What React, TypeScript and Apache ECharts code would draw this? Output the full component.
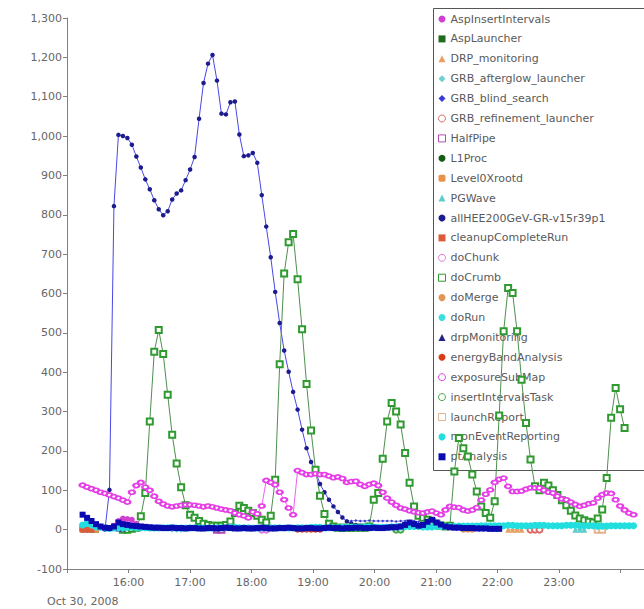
import React, { useEffect, useRef } from "react";
import * as echarts from "echarts";

// Sampling grid of the monitoring data (Oct 30, 2008, one sample every ~4.4 minutes)
const T0 = new Date(2008, 9, 30, 15, 15, 13).getTime();
const STEP = 262200;
const X_MIN = new Date(2008, 9, 30, 15, 0, 0).getTime();
const X_MAX = new Date(2008, 9, 31, 0, 28, 47).getTime();

const yTicks = { min: -100, max: 1300, interval: 100 };
const dateLabel = "Oct 30, 2008";

// ---- series values (start = first sample index) ----
const aspInsertStart = 7;
const aspInsertValues = [10, 22, 28, 27, 25, 15, 5];

const aspLauncherStart = 0;
const aspLauncherValues = [3, 2, 1, 0];

const drpStart = 95;
const drpValues = [0, 0, 0, 0];

const grbAfterglowStart = 20;
const grbAfterglowValues = [0, 0, 0];

const grbBlindStart = 59;
const grbBlindValues = [22, 22, 23, 22, 22, 23, 22, 22, 22, 22, 22, 21, 22, 22, 22, 22, 20];

const grbRefStart = 100;
const grbRefValues = [0, 0, 0];

const halfPipeStart = 30;
const halfPipeValues = [0, 0];

const l1ProcStart = 0;
const l1ProcValues = [0, 0, 0];

const level0Start = 0;
const level0Values = [2, 2, 1, 0];

const pgWaveStart = 110;
const pgWaveValues = [0, 0, 0];

const allHEEStart = 5;
const allHEEValues = [
  0, 101, 822, 1003, 1000, 995, 978, 948, 920, 890, 865, 837, 814, 799, 809, 839, 854, 862, 888, 915,
  947, 1044, 1135, 1184, 1206, 1141, 1057, 1055, 1086, 1088, 1004, 949, 951, 957, 932, 850, 770, 692,
  604, 525, 455, 401, 350, 305, 254, 207, 172, 148, 116, 95, 76, 59, 45, 31, 21, 15, 12, 10, 8, 5, 3,
];

const cleanupStart = 0;
const cleanupValues = [0, 0, 0];

const doChunkStart = 40;
const doChunkValues = [0, 0];

const doCrumbStart = 9;
const doCrumbValues = [
  0, 0, 2, 5, 34, 93, 275, 452, 507, 446, 343, 241, 168, 108, 62, 38, 30, 22, 15, 12,
  10, 10, 10, 12, 21, 42, 61, 55, 48, 42, 35, 25, 18, 35, 127, 420, 651, 730, 751, 636,
  509, 370, 252, 152, 86, 40, 15, 8, 5, 5, 5, 5, 5, 5, 5, 8, 76, 93, 180, 275,
  322, 300, 267, 195, 119, 59, 35, 30, 25, 20, 15, 10, 8, 10, 148, 233, 207, 186, 140, 97,
  59, 42, 30, 72, 290, 504, 614, 601, 504, 381, 271, 178, 110, 100, 119, 112, 100, 88, 75, 62,
  48, 36, 28, 24, 20, 18, 28, 51, 131, 284, 360, 306, 258,
];

const doMergeStart = 85;
const doMergeValues = [0, 0, 0];

const doRunStart = 0;
const doRunValues = [12, 15, 10, 5];

const drpMonStart = 6;
const drpMonValues = [5, 4, 3, 3];

const energyStart = 48;
const energyValues = [0, 0, 0, 0, 0, 0];

const exposureStart = 0;
const exposureValues = [
  113, 108, 104, 100, 95, 92, 88, 84, 80, 75, 70, 95, 112, 120, 108, 100, 85, 72, 65, 60,
  58, 60, 62, 63, 63, 62, 60, 58, 60, 58, 55, 52, 50, 48, 42, 38, 35, 30, 45, 40,
  60, 125, 120, 114, 95, 76, 55, 38, 150, 145, 140, 140, 142, 140, 140, 136, 132, 134, 130, 120,
  122, 123, 115, 110, 115, 118, 112, 95, 80, 70, 62, 55, 52, 48, 45, 43, 42, 45, 47, 42,
  38, 50, 59, 57, 56, 50, 47, 50, 56, 75, 90, 101, 120, 128, 131, 110, 97, 97, 98, 103,
  106, 106, 106, 100, 95, 93, 85, 78, 76, 70, 64, 59, 62, 66, 68, 80, 89, 93, 92, 76,
  60, 50, 42, 38,
];

const insertIntStart = 70;
const insertIntValues = [0, 0];

const launchStart = 115;
const launchValues = [0, 0];

const monEventStart = 0;
const monEventValues = [
  12, 16, 14, 10, 6, 4, 3, 4, 5, 5, 6, 6, 5, 5, 5, 4, 4, 4, 5, 5,
  5, 4, 4, 4, 5, 5, 5, 4, 4, 4, 5, 5, 5, 6, 6, 5, 5, 5, 4, 4,
  4, 5, 5, 5, 5, 4, 4, 4, 5, 5, 5, 6, 6, 6, 5, 5, 5, 5, 6, 6,
  6, 6, 7, 7, 7, 6, 6, 6, 6, 7, 7, 7, 8, 8, 8, 8, 7, 7, 7, 8,
  8, 8, 8, 8, 9, 9, 9, 9, 9, 10, 10, 10, 10, 10, 10, 11, 11, 10, 10, 10,
  10, 11, 11, 11, 10, 10, 10, 10, 11, 11, 11, 10, 10, 10, 10, 9, 9, 9, 10, 10,
  10, 10, 10, 10,
];

const ptStart = 0;
const ptValues = [
  38, 30, 22, 14, 8, 5, 4, 8, 18, 14, 12, 10, 9, 8, 7, 6, 5, 5, 4, 4,
  5, 4, 4, 3, 4, 4, 3, 3, 4, 4, 3, 4, 5, 4, 3, 3, 4, 3, 3, 4,
  5, 4, 3, 3, 4, 4, 5, 4, 3, 3, 4, 4, 3, 3, 4, 5, 4, 4, 3, 4,
  4, 5, 5, 4, 4, 5, 4, 4, 5, 6, 6, 8, 12, 18, 14, 10, 12, 20, 25, 18,
  13, 8, 6, 5, 5, 4, 4, 4, 3, 3, 3, 2, 2, 2,
];

type Def = {
  name: string; color: string; line?: string; symbol: string; empty?: boolean;
  size: number | number[]; start: number; values: number[];
};

const defs: Def[] = [
  { name: "AspInsertIntervals", color: "#d13fd1", symbol: "circle", size: 6, start: aspInsertStart, values: aspInsertValues },
  { name: "AspLauncher", color: "#1e6b1e", symbol: "rect", size: 6, start: aspLauncherStart, values: aspLauncherValues },
  { name: "DRP_monitoring", color: "#e8a064", symbol: "triangle", size: 6, start: drpStart, values: drpValues },
  { name: "GRB_afterglow_launcher", color: "#6fd0d0", symbol: "diamond", size: 6, start: grbAfterglowStart, values: grbAfterglowValues },
  { name: "GRB_blind_search", color: "#3a3ad6", line: "#8080e0", symbol: "diamond", size: 3, start: grbBlindStart, values: grbBlindValues },
  { name: "GRB_refinement_launcher", color: "#e06a6a", symbol: "circle", empty: true, size: 6, start: grbRefStart, values: grbRefValues },
  { name: "HalfPipe", color: "#b04cb0", symbol: "rect", empty: true, size: 6, start: halfPipeStart, values: halfPipeValues },
  { name: "L1Proc", color: "#135c13", symbol: "circle", size: 6, start: l1ProcStart, values: l1ProcValues },
  { name: "Level0Xrootd", color: "#e8924a", symbol: "roundRect", size: 6, start: level0Start, values: level0Values },
  { name: "PGWave", color: "#5fcccc", symbol: "triangle", size: 6, start: pgWaveStart, values: pgWaveValues },
  { name: "allHEE200GeV-GR-v15r39p1", color: "#1c1c8f", line: "#4848e6", symbol: "circle", size: 4.5, start: allHEEStart, values: allHEEValues },
  { name: "cleanupCompleteRun", color: "#dd5a3a", symbol: "rect", size: 6, start: cleanupStart, values: cleanupValues },
  { name: "doChunk", color: "#e07ae0", symbol: "circle", empty: true, size: 6, start: doChunkStart, values: doChunkValues },
  { name: "doCrumb", color: "#2f9a2f", line: "#4f8f4f", symbol: "rect", empty: true, size: 6, start: doCrumbStart, values: doCrumbValues },
  { name: "doMerge", color: "#e39552", symbol: "circle", size: 6, start: doMergeStart, values: doMergeValues },
  { name: "doRun", color: "#3adede", symbol: "circle", size: 6, start: doRunStart, values: doRunValues },
  { name: "drpMonitoring", color: "#22228a", symbol: "triangle", size: 6, start: drpMonStart, values: drpMonValues },
  { name: "energyBandAnalysis", color: "#dd3a16", symbol: "circle", size: 6, start: energyStart, values: energyValues },
  { name: "exposureSubMap", color: "#e63ee6", line: "#f060f0", symbol: "circle", empty: true, size: [6, 4], start: exposureStart, values: exposureValues },
  { name: "insertIntervalsTask", color: "#46aa46", symbol: "circle", empty: true, size: 6, start: insertIntStart, values: insertIntValues },
  { name: "launchReport", color: "#e4b48e", symbol: "rect", empty: true, size: 6, start: launchStart, values: launchValues },
  { name: "monEventReporting", color: "#22dede", symbol: "circle", size: 7, start: monEventStart, values: monEventValues },
  { name: "ptAnalysis", color: "#0a0ab0", symbol: "rect", size: 6, start: ptStart, values: ptValues },
];

export default function App() {
  const ref = useRef<HTMLDivElement>(null);
  useEffect(() => {
    if (!ref.current) return;
    const chart = echarts.init(ref.current, null, { renderer: "svg" });
    const font = "DejaVu Sans";
    const border = { stroke: "#555555", lineWidth: 1 };
    chart.setOption({
      animation: false,
      backgroundColor: "#ffffff",
      textStyle: { fontFamily: font },
      grid: { left: 67, right: 150, top: 18, bottom: 40 },
      legend: {
        orient: "vertical",
        left: 433,
        top: 8,
        z: 1,
        padding: [5, 5, 5, 5],
        backgroundColor: "transparent",
        borderWidth: 0,
        itemWidth: 7,
        itemHeight: 7,
        itemGap: 7.9,
        itemTextGap: 10,
        selectedMode: false,
        textStyle: { fontFamily: font, fontSize: 11, color: "#5a5a5a", lineHeight: 12 },
        data: defs.map((d) => ({
          name: d.name,
          icon: d.symbol,
          itemStyle: d.empty
            ? { color: "#ffffff", borderColor: d.color, borderWidth: 1 }
            : { color: d.color, borderWidth: 0 },
        })),
      },
      xAxis: {
        type: "time",
        min: X_MIN,
        max: X_MAX,
        splitNumber: 9,
        minInterval: 3600000,
        maxInterval: 3600000,
        splitLine: { show: false },
        axisLine: { onZero: false, lineStyle: { color: "#808080", width: 1 } },
        axisTick: { show: true, length: 4, lineStyle: { color: "#808080" } },
        axisLabel: {
          color: "#666666",
          fontSize: 11,
          fontFamily: font,
          margin: 8,
          formatter: (v: number) => {
            const d = new Date(v);
            const h = d.getHours();
            if (h === 15 || h === 0) return "";
            return String(h).padStart(2, "0") + ":" + String(d.getMinutes()).padStart(2, "0");
          },
        },
      },
      yAxis: {
        type: "value",
        min: yTicks.min,
        max: yTicks.max,
        interval: yTicks.interval,
        splitLine: { show: false },
        axisLine: { show: true, lineStyle: { color: "#808080", width: 1 } },
        axisTick: { show: true, length: 4, lineStyle: { color: "#808080" } },
        axisLabel: {
          color: "#666666",
          fontSize: 11,
          fontFamily: font,
          margin: 5,
          formatter: (v: number) => v.toLocaleString("en-US"),
        },
      },
      graphic: [
        {
          type: "rect",
          z: 0,
          silent: true,
          shape: { x: 433.5, y: 8.5, width: 300, height: 462 },
          style: { fill: "#ffffff" },
        },
        { type: "line", z: 0, silent: true, shape: { x1: 433.5, y1: 8.5, x2: 733.5, y2: 8.5 }, style: border },
        { type: "line", z: 0, silent: true, shape: { x1: 433.5, y1: 8.5, x2: 433.5, y2: 470.5 }, style: border },
        { type: "line", z: 0, silent: true, shape: { x1: 433.5, y1: 470.5, x2: 733.5, y2: 470.5 }, style: border },
        {
          type: "text",
          left: 47,
          top: 596,
          style: { text: dateLabel, fill: "#666666", fontSize: 11, fontFamily: font },
        },
      ],
      series: defs.map((d) => ({
        name: d.name,
        type: "line",
        z: 2,
        symbol: d.empty ? "empty" + (d.symbol === "rect" ? "Rect" : "Circle") : d.symbol,
        symbolSize: d.size,
        showSymbol: true,
        showAllSymbol: true,
        lineStyle: { color: d.line || d.color, width: 1 },
        itemStyle: { color: d.color, borderWidth: d.empty ? 1 : 0 },
        emphasis: { disabled: true },
        data: d.values.map((v, k) => [T0 + (d.start + k) * STEP, v]),
      })),
    });
    return () => chart.dispose();
  }, []);

  return (
    <div
      style={{
        position: "absolute",
        left: 0,
        top: 0,
        width: 644,
        height: 609,
        overflow: "hidden",
        background: "#ffffff",
      }}
    >
      <div ref={ref} style={{ width: 800, height: 609 }} />
    </div>
  );
}
